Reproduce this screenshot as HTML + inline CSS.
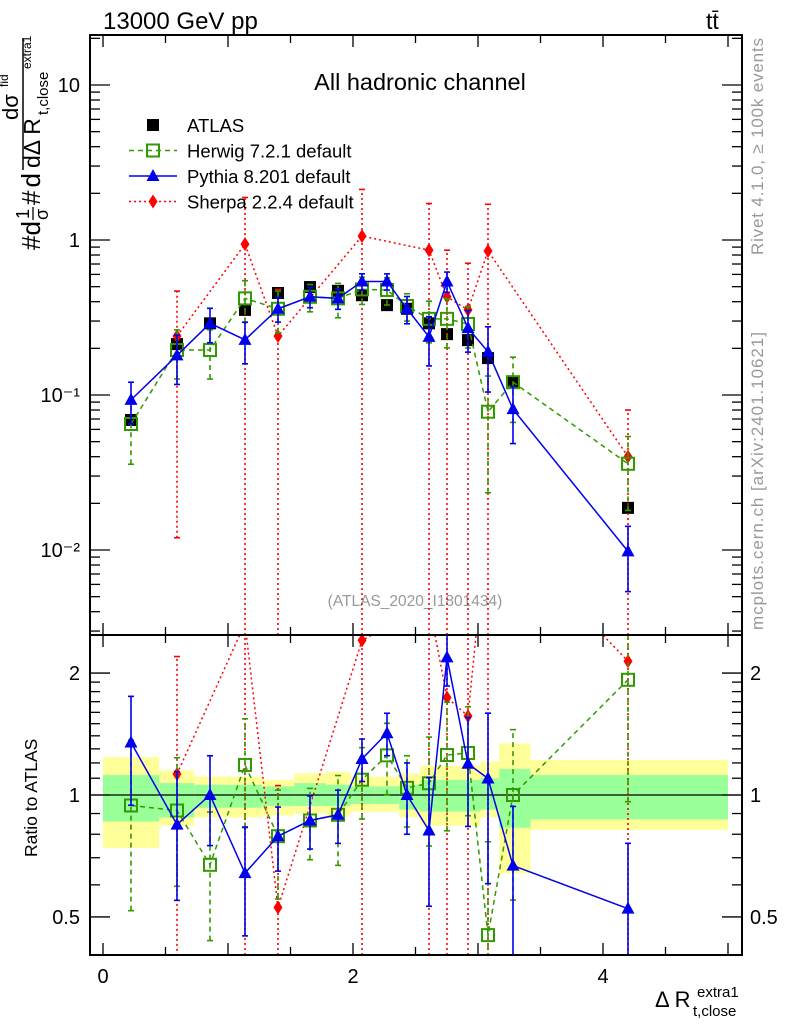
<!DOCTYPE html>
<html><head><meta charset="utf-8"><style>
html,body{margin:0;padding:0;background:#fff;overflow:hidden}
svg{display:block;font-family:"Liberation Sans",Arial,sans-serif}
</style></head><body>
<svg id="c" width="786" height="1024" xmlns="http://www.w3.org/2000/svg">
<text x="103" y="29" font-size="24">13000 GeV pp</text>
<text x="706" y="29" font-size="23">tt̄</text>
<text x="420" y="90" font-size="23.5" text-anchor="middle">All hadronic channel</text>
<text x="415" y="606" font-size="15.5" fill="#999" text-anchor="middle">(ATLAS_2020_I1801434)</text>
<text transform="translate(763,255) rotate(-90)" font-size="17" textLength="217" fill="#999">Rivet 4.1.0, ≥ 100k events</text>
<text transform="translate(763,630) rotate(-90)" font-size="17" textLength="298" fill="#999">mcplots.cern.ch [arXiv:2401.10621]</text>
<g transform="translate(40,250) rotate(-90)">
<text x="0" y="0" font-size="26" textLength="29">#d</text>
<text x="31" y="-11" font-size="18">1</text><line x1="30" y1="-7" x2="43" y2="-7" stroke="#000" stroke-width="1.3"/><text x="30" y="8" font-size="18">σ</text>
<text x="45" y="0" font-size="26" textLength="32">#d</text>
<text x="130" y="-22" font-size="22">dσ</text><text x="163" y="-32" font-size="12">ﬁd</text>
<line x1="80" y1="-17" x2="212" y2="-17" stroke="#000" stroke-width="1.5"/>
<text x="82" y="0" font-size="23">dΔ R</text><text x="135" y="8" font-size="15">t,close</text><text x="181" y="-9" font-size="12">extra1</text>
</g>
<text transform="translate(37,857) rotate(-90)" font-size="17.5">Ratio to ATLAS</text>
<g><text x="655" y="1007" font-size="22">Δ R</text><text x="693" y="1016" font-size="15">t,close</text><text x="697" y="997" font-size="15">extra1</text></g>
<g id="main"></g>
<g id="ratio"></g>
<g id="legend"></g>
</svg>
<script>
const xs=[0.224,0.592,0.856,1.136,1.4,1.656,1.88,2.072,2.272,2.432,2.608,2.752,2.92,3.08,3.28,4.2];
const atlas=[0.069,0.213,0.29,0.354,0.455,0.497,0.47,0.44,0.38,0.36,0.29,0.247,0.226,0.173,0.121,0.0187];
const herwig=[0.065,0.195,0.195,0.42,0.36,0.43,0.42,0.48,0.476,0.375,0.31,0.31,0.287,0.078,0.121,0.036];
const herwigErr=[0.45,0.35,0.35,0.3,0.3,0.2,0.25,0.2,0.2,0.2,0.3,0.35,0.3,0.7,0.45,0.5];
const pythia=[0.093,0.18,0.29,0.227,0.36,0.43,0.42,0.54,0.54,0.36,0.237,0.54,0.27,0.19,0.081,0.0098];
const pythiaErr=[0.3,0.35,0.25,0.3,0.18,0.15,0.15,0.12,0.12,0.2,0.35,0.15,0.3,0.45,0.4,0.45];
const sherpa=[null,0.24,null,0.94,0.24,null,null,1.06,null,null,0.86,0.43,0.354,0.85,null,0.04];
const sherpaErr=[0,0.95,0,1.0,1.0,0,0,1.0,0,0,1.0,1.0,1.0,1.0,0,1.0];
const binEdges=[0,0.45,0.73,1.0,1.27,1.53,1.78,1.98,2.17,2.37,2.54,3.02,3.17,3.42,5.0];
const yelUp=[1.24,1.15,1.11,1.11,1.09,1.13,1.14,1.11,1.11,1.13,1.18,1.21,1.34,1.22];
const yelDn=[0.74,0.84,0.88,0.88,0.89,0.90,0.89,0.91,0.91,0.88,0.84,0.88,0.64,0.82];
const grnUp=[1.12,1.07,1.06,1.06,1.05,1.07,1.06,1.05,1.05,1.06,1.09,1.10,1.16,1.12];
const grnDn=[0.86,0.88,0.93,0.93,0.94,0.94,0.94,0.95,0.95,0.92,0.91,0.92,0.83,0.87];
const mainTicks=[["10",1],["1",0],["10⁻¹",-1],["10⁻²",-2]];
const ratioTicks=[["2",2],["1",1],["0.5",0.5]];
const xTicks=[0,2,4];

const NS="http://www.w3.org/2000/svg";
const L=90,R=742,T=35,M=635,B=955;
const X=v=>103+v*125;
const Ym=v=>240-Math.log10(v)*155;
const Yr=v=>795-Math.log10(v)*405;
function mk(p,tag,a){const e=document.createElementNS(NS,tag);for(const k in a)e.setAttribute(k,a[k]);p.appendChild(e);return e;}
const main=document.getElementById('main'),ratio=document.getElementById('ratio'),leg=document.getElementById('legend');
const clipM=mk(document.getElementById('c'),'clipPath',{id:'cm'});mk(clipM,'rect',{x:L,y:T,width:R-L,height:M-T});
const clipR=mk(document.getElementById('c'),'clipPath',{id:'cr'});mk(clipR,'rect',{x:L,y:M,width:R-L,height:B-M});

binEdges.slice(0,-1).forEach((e,i)=>{
 const x0=X(e),x1=X(binEdges[i+1]);
 let r=mk(ratio,'rect',{x:x0,y:Yr(yelUp[i]),width:x1-x0,height:Yr(yelDn[i])-Yr(yelUp[i]),fill:'#ffff99'});
 
 r=mk(ratio,'rect',{x:x0,y:Yr(grnUp[i]),width:x1-x0,height:Yr(grnDn[i])-Yr(grnUp[i]),fill:'#99ff99'});
 
});
mk(ratio,'line',{x1:L,x2:R,y1:Yr(1),y2:Yr(1),stroke:'#000','stroke-width':1.3});

function marker(g,type,x,y,col){
 let e;
 if(type==='sq') e=mk(g,'rect',{x:x-6,y:y-6,width:12,height:12,fill:col});
 if(type==='osq') e=mk(g,'rect',{x:x-6,y:y-6,width:12,height:12,fill:'none',stroke:col,'stroke-width':2});
 if(type==='tri') e=mk(g,'polygon',{points:`${x},${y-7} ${x-6.5},${y+5} ${x+6.5},${y+5}`,fill:col});
 if(type==='dia') e=mk(g,'polygon',{points:`${x},${y-7} ${x-4.5},${y} ${x},${y+7} ${x+4.5},${y}`,fill:col});
 return e;
}
function series(panel,clip,Yf,vals,errs,col,dash,type,name,den){
 const g=mk(panel,'g',{'clip-path':`url(#${clip})`});
 
 
 const pts=[];
 vals.forEach((v,i)=>{
  if(v==null) return;
  const val=den?v/den[i]:v;
  const x=X(xs[i]),y=Yf(val);pts.push(x+','+y);
  if(errs){
   const lo=Math.max(val*(1-errs[i]),1e-6),hi=val*(1+errs[i]);
   mk(g,'line',{x1:x,x2:x,y1:Yf(lo),y2:Yf(hi),stroke:col,'stroke-width':1.6,'stroke-dasharray':dash||'none'});
   mk(g,'line',{x1:x-3,x2:x+3,y1:Yf(hi),y2:Yf(hi),stroke:col,'stroke-width':1.6});
   mk(g,'line',{x1:x-3,x2:x+3,y1:Yf(lo),y2:Yf(lo),stroke:col,'stroke-width':1.6});
  }
 });
 if(type!=='sq') mk(g,'polyline',{points:pts.join(' '),fill:'none',stroke:col,'stroke-width':1.5,'stroke-dasharray':dash||'none'});
 vals.forEach((v,i)=>{
  if(v==null) return;
  const val=den?v/den[i]:v;
  const m=marker(g,type,X(xs[i]),Yf(val),col);
  
  
 });
}
series(main,'cm',Ym,atlas,null,'#000',null,'sq','atlas-series');
series(main,'cm',Ym,sherpa,sherpaErr,'#ff0000','2,3','dia','sherpa-series');
series(main,'cm',Ym,herwig,herwigErr,'#339900','5,4','osq','herwig-series');
series(main,'cm',Ym,pythia,pythiaErr,'#0000ee',null,'tri','pythia-series');
series(ratio,'cr',Yr,sherpa,sherpaErr,'#ff0000','2,3','dia','sherpa-ratio',atlas);
series(ratio,'cr',Yr,herwig,herwigErr,'#339900','5,4','osq','herwig-ratio',atlas);
series(ratio,'cr',Yr,pythia,pythiaErr,'#0000ee',null,'tri','pythia-ratio',atlas);

mk(main,'rect',{x:L,y:T,width:R-L,height:M-T,fill:'none',stroke:'#000','stroke-width':2});
mk(ratio,'rect',{x:L,y:M,width:R-L,height:B-M,fill:'none',stroke:'#000','stroke-width':2});
for(let v=0;v<=5;v+=0.5){
 const x=X(v),len=(v%1===0)?12:8;
 [[T,1],[M,-1],[M,1],[B,-1]].forEach(([y,d])=>mk(main,'line',{x1:x,x2:x,y1:y,y2:y+d*len,stroke:'#000','stroke-width':1.3}));
}
xTicks.forEach(v=>{const t=mk(ratio,'text',{x:X(v),y:983,'font-size':20,'text-anchor':'middle'});t.textContent=v;
 });
for(let d=-3;d<=1;d++)for(let k=1;k<=9;k++){
 const v=k*Math.pow(10,d),y=Ym(v);if(y<T||y>M)continue;
 const len=k===1?20:10;
 mk(main,'line',{x1:L,x2:L+len,y1:y,y2:y,stroke:'#000','stroke-width':1.3});
 mk(main,'line',{x1:R,x2:R-len,y1:y,y2:y,stroke:'#000','stroke-width':1.3});
}
mainTicks.forEach(([s,p])=>{const t=mk(main,'text',{x:80,y:Ym(Math.pow(10,p))+7,'font-size':20,'text-anchor':'end'});t.textContent=s;
 });
[0.5,0.6,0.7,0.8,0.9,1,1.1,1.2,1.3,1.4,1.5,1.6,1.7,1.8,1.9,2].forEach(v=>{
 const y=Yr(v),len=(v===0.5||v===1||v===2)?20:10;
 mk(ratio,'line',{x1:L,x2:L+len,y1:y,y2:y,stroke:'#000','stroke-width':1.3});
 mk(ratio,'line',{x1:R,x2:R-len,y1:y,y2:y,stroke:'#000','stroke-width':1.3});
});
ratioTicks.forEach(([s,v])=>{
 let t=mk(ratio,'text',{x:80,y:Yr(v)+7,'font-size':20,'text-anchor':'end'});t.textContent=s;
 
 t=mk(ratio,'text',{x:750,y:Yr(v)+7,'font-size':20});t.textContent=s;
 
});
[["ATLAS",'#000',null,'sq',false],["Herwig 7.2.1 default",'#339900','5,4','osq',true],["Pythia 8.201 default",'#0000ee',null,'tri',true],["Sherpa 2.2.4 default",'#ff0000','2,3','dia',true]].forEach(([lab,col,dash,type,ln],i)=>{
 const y=125+i*25.5;
 const g=mk(leg,'g',{});
 
 
 if(ln) mk(g,'line',{x1:129,x2:177,y1:y,y2:y,stroke:col,'stroke-width':1.5,'stroke-dasharray':dash||'none'});
 marker(g,type,153,y,col);
 const t=mk(g,'text',{x:187,y:y+7,'font-size':18.5});t.textContent=lab;
});
</script>
</body></html>
